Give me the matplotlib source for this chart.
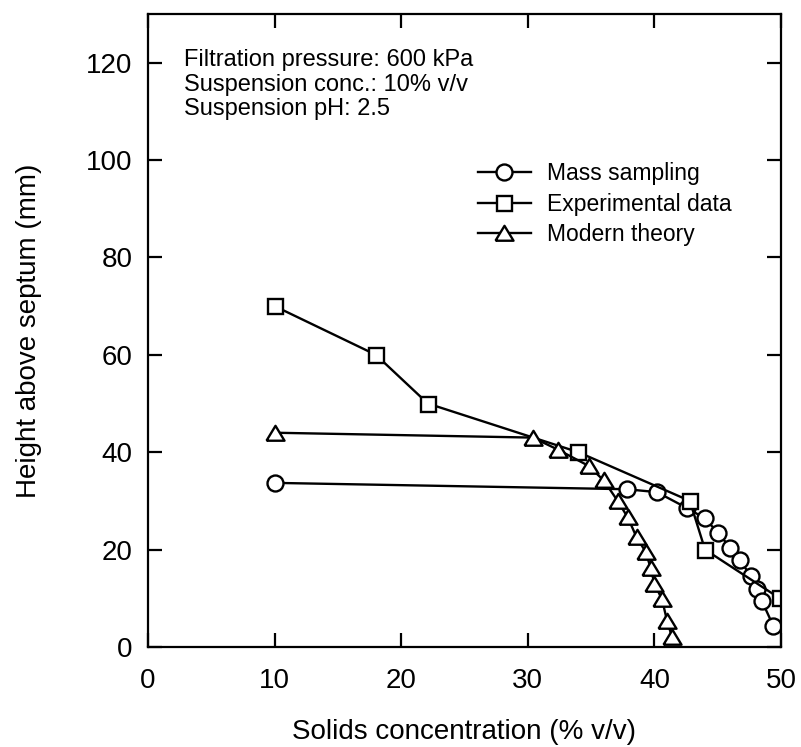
import matplotlib
matplotlib.use("Agg")
import matplotlib.pyplot as plt

plt.rcParams['font.family'] = ['Liberation Sans', 'DejaVu Sans']

# mass sampling (circles)
mass_x = [10.0, 37.8, 40.2, 42.6, 44.0, 45.0, 46.0, 46.8, 47.6, 48.1, 48.5, 49.4]
mass_y = [33.7, 32.4, 31.8, 28.5, 26.4, 23.5, 20.4, 17.8, 14.5, 12.0, 9.4, 4.3]

# experimental data (squares)
exp_x = [10.0, 18.0, 22.1, 34.0, 42.8, 44.0, 49.9]
exp_y = [70.0, 60.0, 50.0, 40.0, 30.0, 20.0, 10.0]

# modern theory (triangles)
theo_x = [10.0, 30.4, 32.4, 34.8, 36.0, 37.1, 37.9, 38.6, 39.3, 39.7, 40.0, 40.6, 41.0, 41.4]
theo_y = [44.0, 43.0, 40.5, 37.2, 34.2, 30.0, 26.6, 22.5, 19.6, 16.3, 13.0, 9.8, 5.4, 2.0]

x_ticks = [0, 10, 20, 30, 40, 50]
y_ticks = [0, 20, 40, 60, 80, 100, 120]

notes = "Filtration pressure: 600 kPa\nSuspension conc.: 10% v/v\nSuspension pH: 2.5"

# slightly flattened triangle, like the original symbol
tri = [(-1.0, -0.8), (1.0, -0.8), (0.0, 0.85), (-1.0, -0.8)]

fig = plt.figure(figsize=(8.01, 7.47), dpi=100)
ax = fig.add_axes([0.1848, 0.1339, 0.7902, 0.8474])

style = dict(color='black', lw=1.7, markerfacecolor='white',
             markeredgecolor='black', markeredgewidth=1.7)
ax.plot(mass_x, mass_y, marker='o', ms=11.5, label='Mass sampling', **style)
ax.plot(exp_x, exp_y, marker='s', ms=10.8, label='Experimental data', **style)
ax.plot(theo_x, theo_y, marker=tri, ms=13, label='Modern theory', **style)

ax.set_xlim(0, 50)
ax.set_ylim(0, 130)
ax.set_xticks(x_ticks)
ax.set_yticks(y_ticks)
ax.tick_params(direction='in', length=10, width=1.6, labelsize=20,
               top=True, right=True)
ax.tick_params(axis='x', pad=15)
ax.tick_params(axis='y', pad=11)
for sp in ax.spines.values():
    sp.set_linewidth(1.6)

ax.set_xlabel('Solids concentration (% v/v)', fontsize=20, labelpad=18)
ax.set_ylabel('Height above septum (mm)', fontsize=20, labelpad=32)

ax.text(184 / 801, 1 - 49 / 747, notes, transform=fig.transFigure,
        fontsize=17, va='top', ha='left', linespacing=1.16)

ax.legend(loc='upper left', bbox_to_anchor=(478 / 801, 1 - 162 / 747),
          bbox_transform=fig.transFigure, frameon=False, fontsize=16.5,
          borderpad=0, borderaxespad=0, handlelength=2.3,
          handletextpad=0.7, labelspacing=0.33)

fig.savefig('out.png', dpi=100)
